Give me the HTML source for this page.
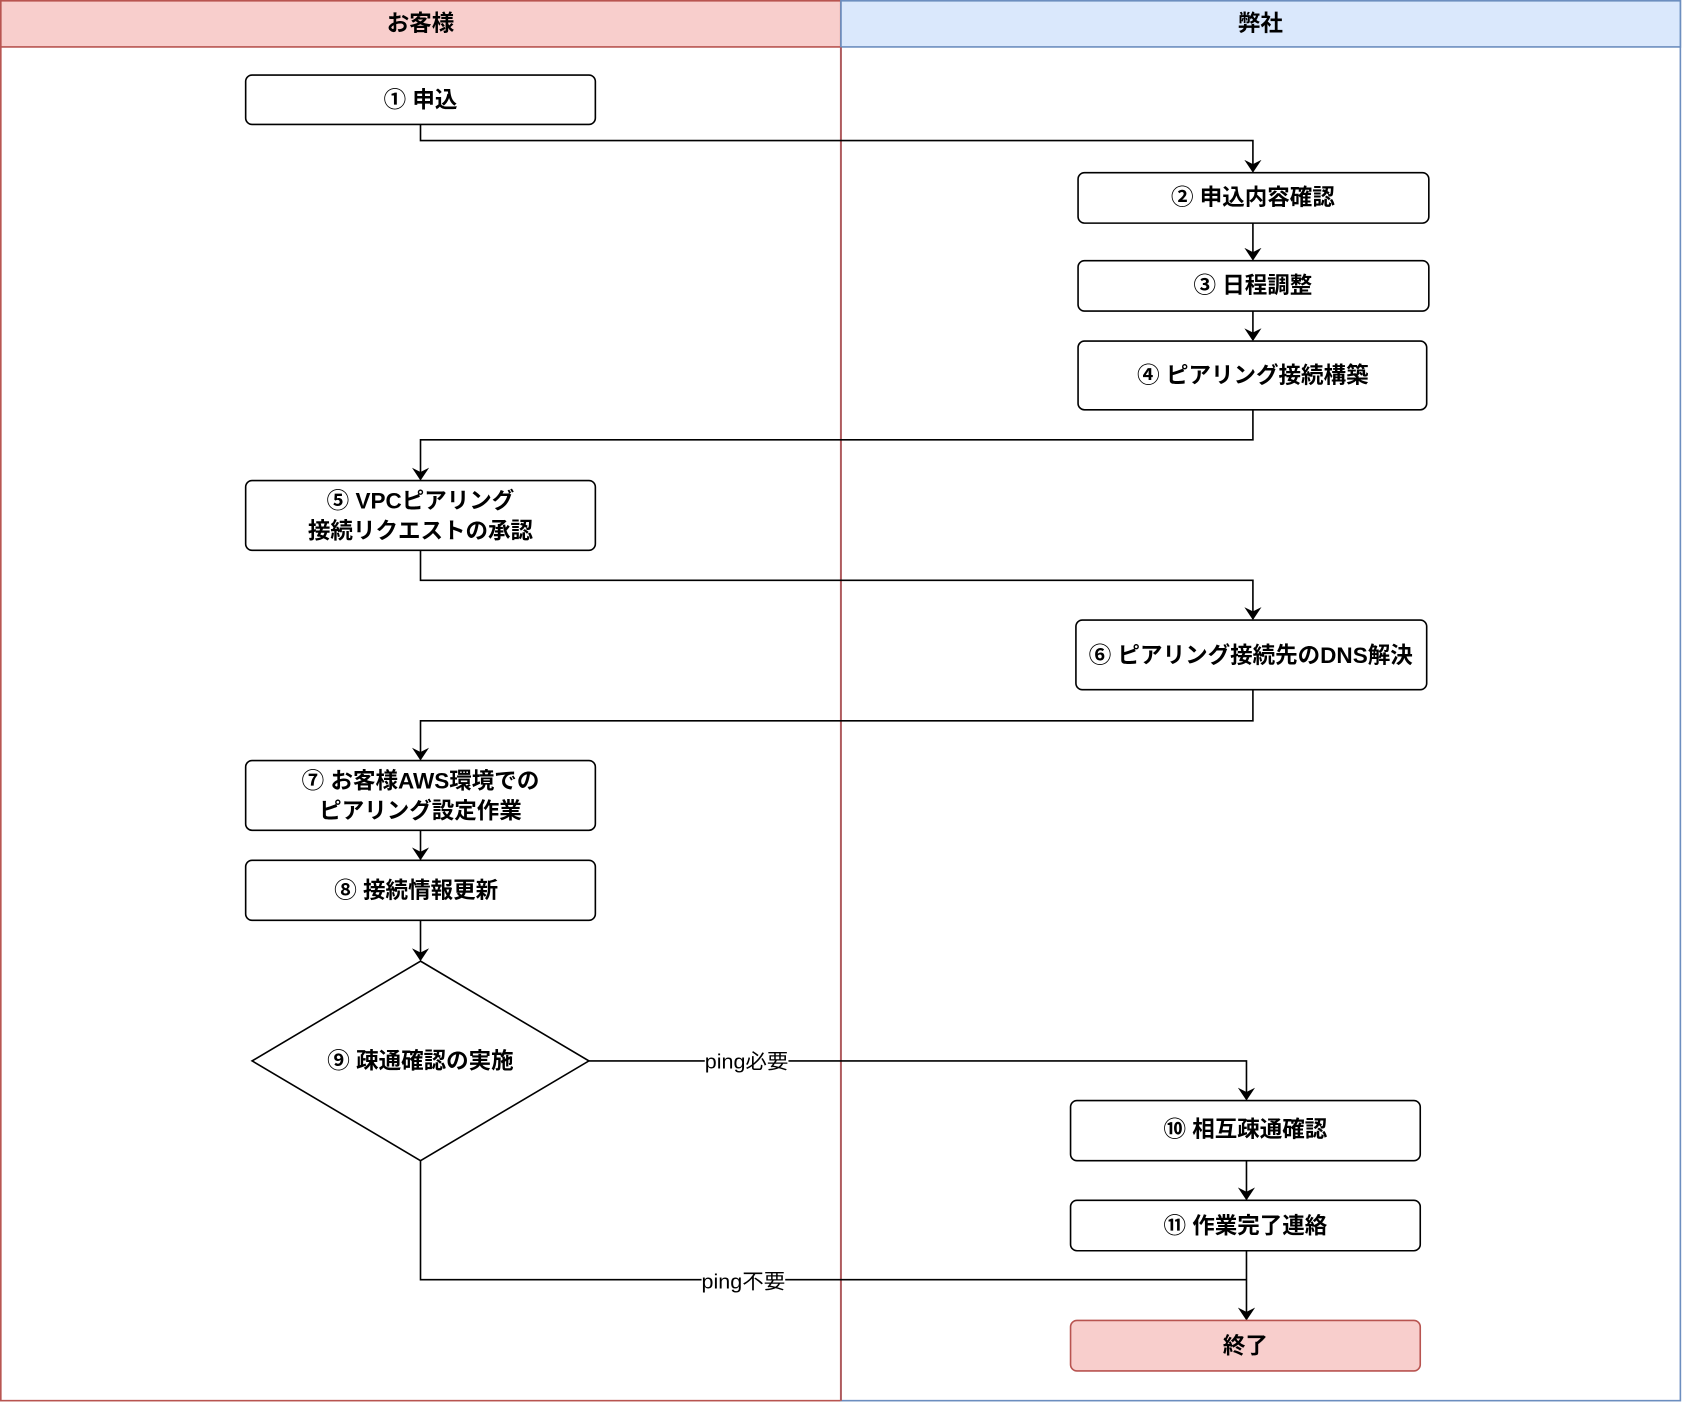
<!DOCTYPE html>
<html><head><meta charset="utf-8"><style>
html,body{margin:0;padding:0;background:#fff;}
svg{display:block;}
text{font-family:"Liberation Sans","Noto Sans CJK JP",sans-serif;}
.b{font-weight:bold;font-size:21px;}
</style></head><body>
<svg width="1682" height="1402" viewBox="0 0 1568 1307" xmlns="http://www.w3.org/2000/svg">
<defs><marker id="a" markerWidth="12" markerHeight="16" refX="11" refY="8" orient="auto" markerUnits="userSpaceOnUse"><path d="M0,0 L12,8 L0,16 L4,8 Z" fill="#000"/></marker></defs>
<rect x="0.75" y="0.75" width="783" height="1305" fill="#fff" stroke="#b85450" stroke-width="1.5"/>
<rect x="0.75" y="0.75" width="783" height="43" fill="#f8cecc" stroke="#b85450" stroke-width="1.5"/>
<rect x="784" y="0.75" width="782.5" height="1305" fill="#fff" stroke="#6c8ebf" stroke-width="1.5"/>
<rect x="784" y="0.75" width="782.5" height="43" fill="#dae8fc" stroke="#6c8ebf" stroke-width="1.5"/>
<line x1="784" y1="44" x2="784" y2="1306" stroke="#b85450" stroke-width="1.5"/>
<text class="b" x="392" y="29" text-anchor="middle">お客様</text>
<text class="b" x="1175" y="29" text-anchor="middle">弊社</text>
<g fill="none" stroke="#000" stroke-width="1.5">
<path d="M392,116 V131 H1168 V160" marker-end="url(#a)"/>
<path d="M1168,208 V242" marker-end="url(#a)"/>
<path d="M1168,290 V317" marker-end="url(#a)"/>
<path d="M1168,382 V410 H392 V447" marker-end="url(#a)"/>
<path d="M392,513 V541 H1168 V577" marker-end="url(#a)"/>
<path d="M1168,643 V672 H392 V708" marker-end="url(#a)"/>
<path d="M392,774 V801" marker-end="url(#a)"/>
<path d="M392,858 V895" marker-end="url(#a)"/>
<path d="M549,989 H1162 V1025" marker-end="url(#a)"/>
<path d="M1162,1082 V1118" marker-end="url(#a)"/>
<path d="M1162,1166 V1230" marker-end="url(#a)"/>
<path d="M392,1082 V1193 H1162"/>
</g>
<g fill="#fff" stroke="#000" stroke-width="1.5">
<rect x="229" y="70" width="326" height="46" rx="6"/>
<rect x="1005" y="161" width="327" height="47" rx="6"/>
<rect x="1005" y="243" width="327" height="47" rx="6"/>
<rect x="1005" y="318" width="325" height="64" rx="6"/>
<rect x="229" y="448" width="326" height="65" rx="6"/>
<rect x="1003" y="578" width="327" height="65" rx="6"/>
<rect x="229" y="709" width="326" height="65" rx="6"/>
<rect x="229" y="802" width="326" height="56" rx="6"/>
<path d="M392,896 L549,989 L392,1082 L235,989 Z"/>
<rect x="998" y="1026" width="326" height="56" rx="6"/>
<rect x="998" y="1119" width="326" height="47" rx="6"/>
<rect x="998" y="1231" width="326" height="47" rx="6" fill="#f8cecc" stroke="#b85450"/>
</g>
<rect x="657" y="978" width="78" height="22" fill="#fff"/>
<rect x="654" y="1183" width="78" height="22" fill="#fff"/>
<text x="696" y="996" font-size="19" text-anchor="middle" textLength="78" lengthAdjust="spacingAndGlyphs">ping必要</text>
<text x="693" y="1201" font-size="19" text-anchor="middle" textLength="78" lengthAdjust="spacingAndGlyphs">ping不要</text>
<g text-anchor="middle">
<text class="b" x="392" y="100">① 申込</text>
<text class="b" x="1168" y="191">② 申込内容確認</text>
<text class="b" x="1168" y="273">③ 日程調整</text>
<text class="b" x="1168" y="357">④ ピアリング接続構築</text>
<text class="b" x="392" y="474">⑤ VPCピアリング</text>
<text class="b" x="392" y="502">接続リクエストの承認</text>
<text class="b" x="1166" y="618">⑥ ピアリング接続先のDNS解決</text>
<text class="b" x="392" y="735">⑦ お客様AWS環境での</text>
<text class="b" x="392" y="763">ピアリング設定作業</text>
<text class="b" x="388" y="837">⑧ 接続情報更新</text>
<text class="b" x="392" y="996">⑨ 疎通確認の実施</text>
<text class="b" x="1161" y="1060">⑩ 相互疎通確認</text>
<text class="b" x="1161" y="1150">⑪ 作業完了連絡</text>
<text class="b" x="1161" y="1262">終了</text>
</g>
</svg>
</body></html>
